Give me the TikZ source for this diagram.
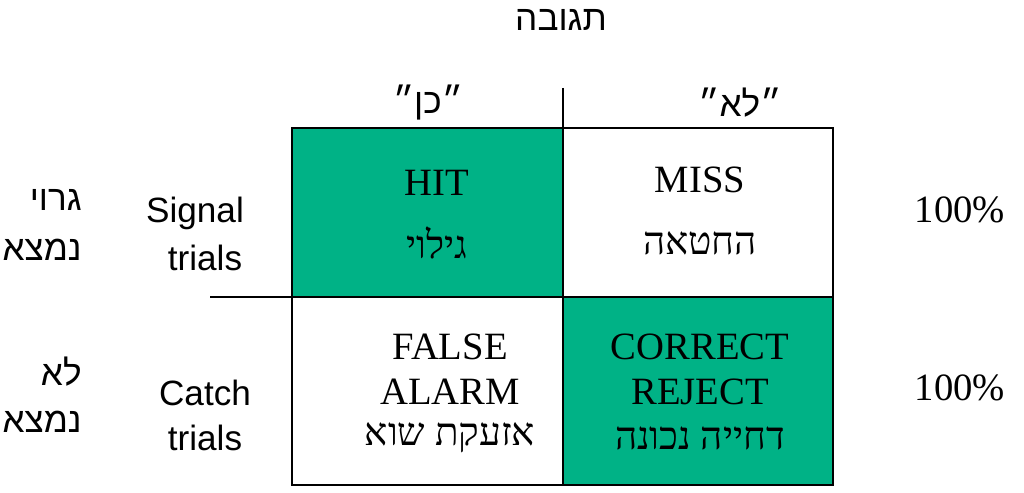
\documentclass[tikz,border=0pt]{standalone}
\usepackage{fontspec}
\setmainfont{Liberation Serif}
\newfontfamily\hebserif[Script=Hebrew]{Liberation Serif}
\newfontfamily\hebsans[Script=Hebrew]{Liberation Sans}
\newfontfamily\arial{Liberation Sans}
\TeXXeTstate=1
\definecolor{cellgreen}{RGB}{0,178,134}
\newcommand{\heb}[1]{\beginR #1\endR}

\begin{document}
\begin{tikzpicture}[x=0.02cm, y=-0.02cm]
\tikzset{
  celltext/.style={font=\fontsize{22}{24}\selectfont, inner sep=0pt},
  sidetext/.style={font=\arial\fontsize{20}{22}\selectfont, inner sep=0pt},
  hebside/.style={font=\hebsans\fontsize{20}{22}\selectfont, inner sep=0pt}
}
\useasboundingbox (0,0) rectangle (1024,493);

% cells
\fill[cellgreen] (292,128) rectangle (563,297);
\fill[cellgreen] (563,297) rectangle (833,485);
\draw[thick] (292,128) rectangle (833,485);
\draw[thick] (563,88) -- (563,485);
\draw[thick] (210,297) -- (833,297);

% header
\node[hebside] (resp) at (561,20) {\heb{תגובה}};
\node[hebside] (yes) at (428,103) {\heb{״כן״}};
\node[hebside] (no) at (740,103) {\heb{״לא״}};

% cell labels
\node[celltext] (hit) at (437,183) {HIT};
\node[celltext, font=\hebserif\fontsize{22}{24}\selectfont] (hith) at (437,243) {\heb{גילוי}};
\node[celltext] (miss) at (700,180) {MISS};
\node[celltext, font=\hebserif\fontsize{22}{24}\selectfont] (missh) at (700,243) {\heb{החטאה}};
\node[celltext] (fa1) at (450,347) {FALSE};
\node[celltext] (fa2) at (450,392) {ALARM};
\node[celltext, font=\hebserif\fontsize{22}{24}\selectfont] (fah) at (450,438) {\heb{אזעקת שוא}};
\node[celltext] (cr1) at (700,347) {CORRECT};
\node[celltext] (cr2) at (700,392) {REJECT};
\node[celltext, font=\hebserif\fontsize{22}{24}\selectfont] (crh) at (700,438) {\heb{דחייה נכונה}};

% row labels
\node[sidetext] (sig1) at (195,213) {Signal};
\node[sidetext] (sig2) at (205,258) {trials};
\node[sidetext] (cat1) at (205,393) {Catch};
\node[sidetext] (cat2) at (205,438) {trials};
\node[hebside, anchor=east] (st1) at (82,200) {\heb{גרוי}};
\node[hebside, anchor=east] (st2) at (82,250) {\heb{נמצא}};
\node[hebside, anchor=east] (ct1) at (82,372) {\heb{לא}};
\node[hebside, anchor=east] (ct2) at (82,422) {\heb{נמצא}};

% totals
\node[celltext] (tot1) at (960,210) {100\%};
\node[celltext] (tot2) at (960,388) {100\%};
\end{tikzpicture}
\end{document}
